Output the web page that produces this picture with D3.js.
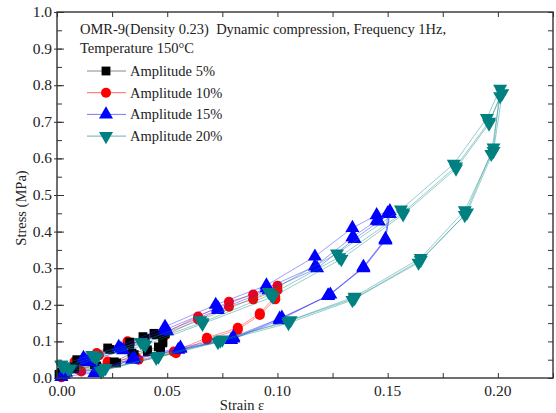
<!DOCTYPE html>
<html>
<head>
<meta charset="utf-8">
<script src="https://cdn.jsdelivr.net/npm/d3@7"></script>
<style>
  body { margin: 0; background: #fff; }
</style>
</head>
<body>
<svg id="chart" width="556" height="413" font-family="'Liberation Serif', 'DejaVu Serif', serif"></svg>
<script>
// Amplitude 5% (two cycles)
const strain5a = [0.001, 0.009, 0.023, 0.033, 0.039, 0.044, 0.049, 0.048, 0.046, 0.041, 0.034, 0.026, 0.017, 0.007, 0.001];
const stress5a = [0.010, 0.050, 0.082, 0.098, 0.113, 0.122, 0.125, 0.100, 0.085, 0.077, 0.068, 0.044, 0.036, 0.030, 0.010];
const strain5b = [0.002, 0.010, 0.024, 0.033, 0.040, 0.045, 0.049, 0.048, 0.047, 0.041, 0.035, 0.027, 0.018, 0.008, 0.002];
const stress5b = [0.015, 0.046, 0.078, 0.092, 0.108, 0.118, 0.121, 0.096, 0.082, 0.072, 0.064, 0.041, 0.033, 0.026, 0.015];

// Amplitude 10% (two cycles)
const strain10a = [0.002, 0.008, 0.018, 0.032, 0.048, 0.064, 0.078, 0.089, 0.100, 0.099, 0.092, 0.082, 0.068, 0.053, 0.036, 0.023, 0.010, 0.002];
const stress10a = [0.002, 0.045, 0.068, 0.100, 0.120, 0.168, 0.208, 0.228, 0.252, 0.222, 0.177, 0.137, 0.110, 0.072, 0.055, 0.045, 0.022, 0.002];
const strain10b = [0.003, 0.009, 0.019, 0.033, 0.049, 0.064, 0.078, 0.089, 0.100, 0.099, 0.092, 0.082, 0.068, 0.054, 0.037, 0.024, 0.011, 0.003];
const stress10b = [0.008, 0.040, 0.062, 0.094, 0.116, 0.160, 0.195, 0.215, 0.240, 0.215, 0.172, 0.132, 0.105, 0.068, 0.050, 0.040, 0.018, 0.008];

// Amplitude 15% (three cycles)
const strain15a = [0.002, 0.012, 0.028, 0.049, 0.072, 0.095, 0.117, 0.134, 0.145, 0.151, 0.149, 0.139, 0.123, 0.101, 0.079, 0.055, 0.034, 0.017, 0.002];
const stress15a = [0.003, 0.055, 0.085, 0.140, 0.200, 0.253, 0.332, 0.410, 0.445, 0.456, 0.378, 0.302, 0.226, 0.158, 0.104, 0.077, 0.050, 0.014, 0.003];
const strain15b = [0.003, 0.013, 0.029, 0.049, 0.073, 0.095, 0.117, 0.134, 0.145, 0.150, 0.149, 0.139, 0.123, 0.101, 0.080, 0.056, 0.035, 0.018, 0.003];
const stress15b = [0.010, 0.048, 0.080, 0.132, 0.192, 0.245, 0.305, 0.385, 0.430, 0.450, 0.376, 0.300, 0.224, 0.162, 0.108, 0.080, 0.052, 0.018, 0.010];
const strain15c = [0.004, 0.014, 0.030, 0.050, 0.073, 0.096, 0.118, 0.135, 0.146, 0.151, 0.149, 0.139, 0.124, 0.102, 0.080, 0.056, 0.035, 0.018, 0.004];
const stress15c = [0.015, 0.044, 0.076, 0.128, 0.186, 0.240, 0.300, 0.380, 0.428, 0.448, 0.380, 0.304, 0.228, 0.165, 0.112, 0.083, 0.055, 0.022, 0.015];

// Amplitude 20% (three cycles)
const strain20a = [0.002, 0.016, 0.038, 0.065, 0.096, 0.127, 0.156, 0.180, 0.195, 0.201, 0.198, 0.185, 0.164, 0.134, 0.105, 0.073, 0.045, 0.022, 0.002];
const stress20a = [0.036, 0.063, 0.098, 0.158, 0.235, 0.340, 0.460, 0.585, 0.710, 0.790, 0.630, 0.445, 0.315, 0.213, 0.150, 0.098, 0.055, 0.027, 0.036];
const strain20b = [0.003, 0.017, 0.039, 0.066, 0.097, 0.128, 0.157, 0.181, 0.196, 0.202, 0.198, 0.186, 0.165, 0.135, 0.105, 0.074, 0.046, 0.021, 0.003];
const stress20b = [0.030, 0.058, 0.094, 0.152, 0.228, 0.330, 0.452, 0.578, 0.700, 0.778, 0.620, 0.452, 0.322, 0.218, 0.155, 0.102, 0.058, 0.022, 0.030];
const strain20c = [0.005, 0.018, 0.040, 0.066, 0.098, 0.129, 0.157, 0.181, 0.196, 0.201, 0.197, 0.185, 0.165, 0.135, 0.106, 0.075, 0.046, 0.020, 0.006];
const stress20c = [0.025, 0.055, 0.090, 0.148, 0.222, 0.325, 0.447, 0.572, 0.695, 0.770, 0.612, 0.458, 0.328, 0.222, 0.158, 0.105, 0.060, 0.018, 0.025];

const seriesNames = ["Amplitude 5%", "Amplitude 10%", "Amplitude 15%", "Amplitude 20%"];
const xTicks = [0, 0.05, 0.10, 0.15, 0.20];
const yTicks = [0, 0.1, 0.2, 0.3, 0.4, 0.5, 0.6, 0.7, 0.8, 0.9, 1.0];

function pairs(xs, ys) {
  return xs.map(function (x, i) { return [x, ys[i]]; });
}

const series = [
  { name: seriesNames[1], fill: "#ff0000", line: "rgba(255,40,40,0.55)", symbol: d3.symbolCircle, size: 80, rot: 0,
    cycles: [pairs(strain10a, stress10a), pairs(strain10b, stress10b)] },
  { name: seriesNames[0], fill: "#000000", line: "rgba(60,60,60,0.55)", symbol: d3.symbolSquare, size: 78, rot: 0,
    cycles: [pairs(strain5a, stress5a), pairs(strain5b, stress5b)] },
  { name: seriesNames[2], fill: "#0000ff", line: "rgba(40,40,255,0.5)", symbol: d3.symbolTriangle, size: 85, rot: 0,
    cycles: [pairs(strain15a, stress15a), pairs(strain15b, stress15b), pairs(strain15c, stress15c)] },
  { name: seriesNames[3], fill: "#008080", line: "rgba(0,128,128,0.45)", symbol: d3.symbolTriangle, size: 85, rot: 180,
    cycles: [pairs(strain20a, stress20a), pairs(strain20b, stress20b), pairs(strain20c, stress20c)] }
];

const svg = d3.select("#chart");
const pLeft = 57, pRight = 553, pTop = 12, pBottom = 378;
const serif = "'Liberation Serif', 'DejaVu Serif', serif";

const x = d3.scaleLinear().domain([0, 0.225]).range([pLeft, pRight]);
const y = d3.scaleLinear().domain([0, 1]).range([pBottom, pTop]);

const line = d3.line()
  .x(function (d) { return x(d[0]); })
  .y(function (d) { return y(d[1]); });

// data
series.forEach(function (s) {
  const g = svg.append("g");
  s.cycles.forEach(function (c) {
    g.append("path")
      .attr("d", line(c))
      .attr("fill", "none")
      .attr("stroke", s.line)
      .attr("stroke-width", 0.9);
  });
  s.cycles.forEach(function (c) {
    g.selectAll(null)
      .data(c)
      .enter()
      .append("path")
      .attr("d", d3.symbol().type(s.symbol).size(s.size))
      .attr("transform", function (d) {
        return "translate(" + x(d[0]) + "," + y(d[1]) + ") rotate(" + s.rot + ")";
      })
      .attr("fill", s.fill);
  });
});

// axes (ticks inward)
const fmtX = d3.format(".2f"), fmtY = d3.format(".1f");
const xMinor = d3.range(0, 0.2251, 0.025);
const yMinor = d3.range(0, 1.001, 0.05);

function styleAxis(g) {
  g.select(".domain").remove();
  g.selectAll("line").attr("stroke", "#333");
}

svg.append("g")
  .attr("transform", "translate(0," + pBottom + ")")
  .call(d3.axisBottom(x).tickValues(xMinor).tickSizeInner(-5).tickSizeOuter(0).tickFormat(""))
  .call(styleAxis);
svg.append("g")
  .attr("transform", "translate(0," + pTop + ")")
  .call(d3.axisTop(x).tickValues(xMinor).tickSizeInner(-5).tickSizeOuter(0).tickFormat(""))
  .call(styleAxis);
svg.append("g")
  .attr("transform", "translate(" + pLeft + ",0)")
  .call(d3.axisLeft(y).tickValues(yMinor).tickSizeInner(-5).tickSizeOuter(0).tickFormat(""))
  .call(styleAxis);
svg.append("g")
  .attr("transform", "translate(" + pRight + ",0)")
  .call(d3.axisRight(y).tickValues(yMinor).tickSizeInner(-5).tickSizeOuter(0).tickFormat(""))
  .call(styleAxis);

// major ticks on left, slightly longer and crossing the frame
svg.append("g")
  .attr("transform", "translate(" + (pLeft + 7) + ",0)")
  .call(d3.axisLeft(y).tickValues(yTicks).tickSize(10).tickFormat(""))
  .call(styleAxis);

svg.append("rect")
  .attr("x", pLeft).attr("y", pTop)
  .attr("width", pRight - pLeft).attr("height", pBottom - pTop)
  .attr("fill", "none").attr("stroke", "#333").attr("stroke-width", 1.4);

// tick labels
svg.append("g").selectAll("text")
  .data(xTicks).enter().append("text")
  .attr("x", function (d) { return x(d) + (d === 0 ? 5 : 0); })
  .attr("y", 396)
  .attr("text-anchor", "middle")
  .attr("font-family", serif).attr("fill", "#222")
  .attr("font-size", 15.5)
  .text(fmtX);
svg.append("g").selectAll("text")
  .data(yTicks).enter().append("text")
  .attr("x", 52)
  .attr("y", function (d) { return y(d) + 5; })
  .attr("text-anchor", "end")
  .attr("font-family", serif).attr("fill", "#222")
  .attr("font-size", 15.5)
  .text(fmtY);

// axis titles
svg.append("text")
  .attr("x", 242).attr("y", 410)
  .attr("text-anchor", "middle").attr("font-size", 14.5)
  .attr("font-family", serif).attr("fill", "#222")
  .text("Strain ε");
svg.append("text")
  .attr("transform", "translate(26,208) rotate(-90)")
  .attr("text-anchor", "middle").attr("font-size", 14.5)
  .attr("font-family", serif).attr("fill", "#222")
  .text("Stress (MPa)");

// annotation
svg.append("text")
  .attr("x", 80).attr("y", 34)
  .attr("font-size", 14.5)
  .attr("font-family", serif).attr("fill", "#222")
  .style("white-space", "pre")
  .text("OMR-9(Density 0.23)  Dynamic compression, Frequency 1Hz,");
svg.append("text")
  .attr("x", 80).attr("y", 53)
  .attr("font-size", 14.5)
  .attr("font-family", serif).attr("fill", "#222")
  .text("Temperature 150°C");

// legend
const legendOrder = [series[1], series[0], series[2], series[3]];
const legendLine = ["#888888", "#ff6666", "#7777ff", "#66b3b3"];
const lg = svg.append("g");
legendOrder.forEach(function (s, i) {
  const yy = 71 + i * 21.7;
  lg.append("line")
    .attr("x1", 87).attr("x2", 126).attr("y1", yy).attr("y2", yy)
    .attr("stroke", legendLine[i]).attr("stroke-width", 1);
  lg.append("path")
    .attr("d", d3.symbol().type(s.symbol).size(s.size))
    .attr("transform", "translate(106," + yy + ") rotate(" + s.rot + ")")
    .attr("fill", s.fill);
  lg.append("text")
    .attr("x", 130).attr("y", yy + 5)
    .attr("font-size", 14.5)
    .attr("font-family", serif).attr("fill", "#222")
    .text(s.name);
});
</script>
</body>
</html>
